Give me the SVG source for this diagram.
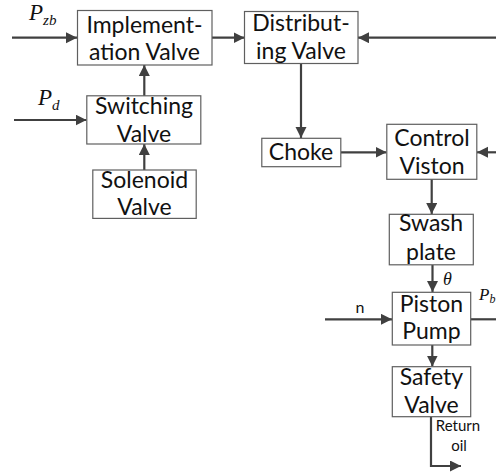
<svg xmlns="http://www.w3.org/2000/svg" width="496" height="473" viewBox="0 0 496 473">
  <defs>
    <marker id="arrow" markerUnits="userSpaceOnUse" markerWidth="12" markerHeight="12" refX="11" refY="5.5" orient="auto">
      <path d="M0,0 L11,5.5 L0,11 z" fill="#404040"/>
    </marker>
    <style>
      .box { fill: #ffffff; stroke: #5f5f5f; stroke-width: 1.2; }
      .lbl { font-family: Lato, "Open Sans", sans-serif; font-size: 23px; fill: #111111; text-anchor: middle; }
      .math { font-family: "Liberation Serif", serif; font-style: italic; fill: #111111; }
      .small { font-family: Lato, "Open Sans", sans-serif; fill: #111111; text-anchor: middle; }
      .conn { fill: none; stroke: #404040; stroke-width: 2.2; marker-end: url(#arrow); }
    </style>
  </defs>
  <rect width="496" height="473" fill="#ffffff"/>

  <!-- connectors -->
  <g id="connectors">
    <path class="conn" d="M12,37.7 L77,37.7"/>
    <path class="conn" d="M212,37.7 L244.5,37.7"/>
    <path class="conn" d="M496,37.7 L358,37.7"/>
    <path class="conn" d="M14,120 L86.5,120"/>
    <path class="conn" d="M144.3,96 L144.3,65"/>
    <path class="conn" d="M144.3,170 L144.3,144"/>
    <path class="conn" d="M301,63 L301,138"/>
    <path class="conn" d="M341,152.3 L386.5,152.3"/>
    <path class="conn" d="M496,152.3 L477,152.3"/>
    <path class="conn" d="M431.7,179 L431.7,214"/>
    <path class="conn" d="M432.5,265 L432.5,292"/>
    <path class="conn" d="M325,319.3 L392,319.3"/>
    <path fill="none" stroke="#404040" stroke-width="2.2" d="M471,319.3 L496,319.3"/>
    <path class="conn" d="M432.3,345 L432.3,366.5"/>
    <path class="conn" d="M431,417 L431,466 L461,466"/>
  </g>

  <!-- signal labels -->
  <g id="signals">
    <text class="math" x="29" y="20" font-size="23">P<tspan font-size="15" dy="5">zb</tspan></text>
    <text class="math" x="38" y="105" font-size="23">P<tspan font-size="15" dy="5">d</tspan></text>
    <text class="math" x="443" y="285" font-size="18">θ</text>
    <text class="math" x="479" y="300" font-size="17">P<tspan font-size="12" dy="3">b</tspan></text>
    <text class="small" x="360" y="313" font-size="16">n</text>
    <text class="small" x="458" y="431" font-size="15">Return</text>
    <text class="small" x="459" y="451" font-size="15">oil</text>
  </g>

  <g id="implementation-valve">
    <rect class="box" x="77.5" y="10.5" width="134.5" height="54.5"/>
    <text class="lbl" x="144.5" y="33">Implement-</text>
    <text class="lbl" x="144.5" y="60">ation Valve</text>
  </g>

  <g id="distributing-valve">
    <rect class="box" x="244.5" y="11.5" width="113.5" height="52"/>
    <text class="lbl" x="301" y="31">Distribut-</text>
    <text class="lbl" x="301" y="59">ing Valve</text>
  </g>

  <g id="switching-valve">
    <rect class="box" x="86.8" y="95.8" width="114" height="48.2"/>
    <text class="lbl" x="144" y="113.5">Switching</text>
    <text class="lbl" x="144" y="141.5">Valve</text>
  </g>

  <g id="solenoid-valve">
    <rect class="box" x="92.8" y="170" width="103.4" height="48.4"/>
    <text class="lbl" x="144.5" y="187.5">Solenoid</text>
    <text class="lbl" x="144.5" y="215">Valve</text>
  </g>

  <g id="choke">
    <rect class="box" x="261.8" y="138.3" width="79" height="28.4"/>
    <text class="lbl" x="301" y="160">Choke</text>
  </g>

  <g id="control-viston">
    <rect class="box" x="386.8" y="124.3" width="90" height="55"/>
    <text class="lbl" x="432" y="145.7">Control</text>
    <text class="lbl" x="432" y="174">Viston</text>
  </g>

  <g id="swash-plate">
    <rect class="box" x="389.3" y="214.3" width="84" height="50.5"/>
    <text class="lbl" x="431" y="231">Swash</text>
    <text class="lbl" x="431" y="260">plate</text>
  </g>

  <g id="piston-pump">
    <rect class="box" x="392.3" y="292.3" width="78.4" height="52.7"/>
    <text class="lbl" x="431.5" y="311.7">Piston</text>
    <text class="lbl" x="431.5" y="339.3">Pump</text>
  </g>

  <g id="safety-valve">
    <rect class="box" x="392.3" y="366.7" width="78.4" height="50"/>
    <text class="lbl" x="431.5" y="385">Safety</text>
    <text class="lbl" x="431.5" y="412.7">Valve</text>
  </g>
</svg>
